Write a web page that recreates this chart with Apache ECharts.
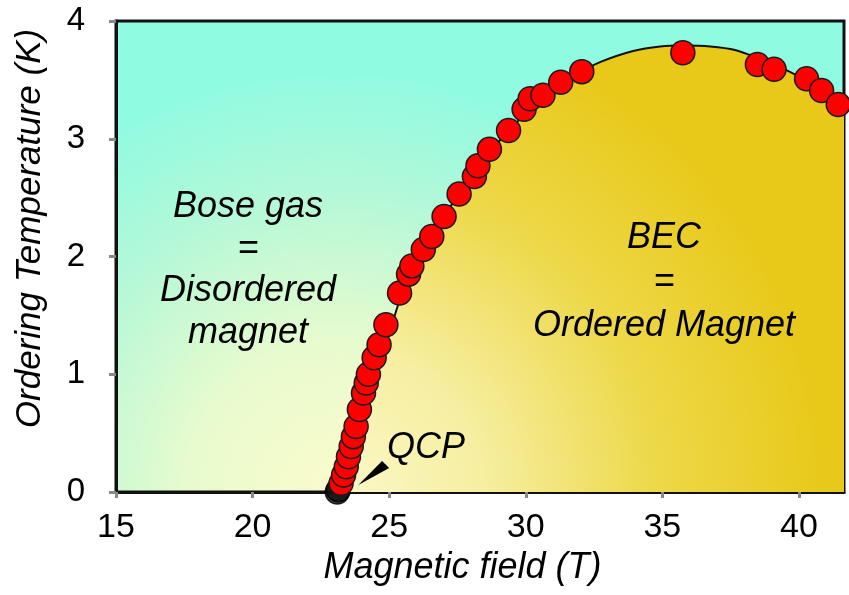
<!DOCTYPE html>
<html>
<head>
<meta charset="utf-8">
<script src="https://cdn.jsdelivr.net/npm/echarts@6/dist/echarts.min.js"></script>
<style>
  html, body { margin: 0; padding: 0; background: #fff; }
  #main { width: 849px; height: 595px; }
</style>
</head>
<body>
<div id="main"></div>
<script>
// tick labels
var xTickLabels = [15, 20, 25, 30, 35, 40];
var yTickLabels = [0, 1, 2, 3, 4];
var xMax = 41.65;

// measured ordering temperatures (field in T, temperature in K)
var fieldData = [23.24, 23.33, 23.43, 23.51, 23.61, 23.69, 23.79, 23.91, 24.06, 24.16,
  24.24, 24.45, 24.63, 24.88, 25.38, 25.71, 25.83, 26.25, 26.56, 27.01,
  27.56, 28.12, 28.25, 28.67, 29.37, 29.94, 30.16, 30.63, 31.28, 32.05,
  35.75, 38.48, 39.09, 40.28, 40.83, 41.44];
var tempData = [0.074, 0.145, 0.215, 0.30, 0.386, 0.47, 0.556, 0.70, 0.84, 0.925,
  1.0, 1.14, 1.25, 1.42, 1.69, 1.85, 1.92, 2.06, 2.17, 2.34,
  2.53, 2.68, 2.77, 2.91, 3.07, 3.25, 3.34, 3.37, 3.48, 3.57,
  3.73, 3.63, 3.59, 3.51, 3.41, 3.29];

// points right at the QCP (drawn dark)
var qcpField = [23.10, 23.14];
var qcpTemp = [0.0, 0.02];

// phase boundary line
var curveField = [23.13, 23.39, 23.75, 24.12, 24.49, 25.04, 25.40, 25.95, 26.50, 27.05,
  27.60, 28.15, 28.70, 29.43, 30.16, 31.08, 31.99, 32.72, 33.93, 34.92,
  35.83, 36.75, 37.66, 38.58, 39.31, 40.04, 40.77, 41.65];
var curveTemp = [0, 0.187, 0.485, 0.783, 1.038, 1.379, 1.634, 1.889, 2.145, 2.357,
  2.545, 2.723, 2.894, 3.081, 3.251, 3.438, 3.566, 3.651, 3.745, 3.783,
  3.791, 3.783, 3.753, 3.677, 3.609, 3.523, 3.421, 3.268];

// QCP pointer wedge: tip, base corner, base corner
var pointerField = [23.87, 24.74, 25.0];
var pointerTemp = [0.06, 0.264, 0.204];

function zip(a, b) {
  return a.map(function (v, i) { return [v, b[i]]; });
}

var FONT = '"Liberation Sans", Arial, Helvetica, sans-serif';

var myChart = echarts.init(document.getElementById('main'));

var option = {
  animation: false,
  grid: {
    left: 116, top: 21, right: 5, bottom: 103,
    show: true,
    borderColor: '#111',
    borderWidth: 3,
    backgroundColor: {
      type: 'radial', x: 0.305, y: 1, r: 0.9,
      colorStops: [
        { offset: 0, color: '#fbfbcc' },
        { offset: 0.35, color: '#e8fbce' },
        { offset: 0.7, color: '#b4f8d8' },
        { offset: 1, color: '#8ffbe1' }
      ]
    }
  },
  xAxis: {
    type: 'value',
    min: xTickLabels[0],
    max: xMax,
    interval: xTickLabels[1] - xTickLabels[0],
    name: 'Magnetic field (T)',
    nameLocation: 'middle',
    nameGap: 58,
    nameTextStyle: { fontFamily: FONT, fontStyle: 'italic', fontSize: 36, color: '#000', padding: [0, 35, 0, 0] },
    axisLine: { onZero: false, lineStyle: { color: '#111', width: 3 } },
    axisTick: { show: true, length: 6, lineStyle: { color: '#888', width: 3 } },
    axisLabel: { fontFamily: FONT, fontSize: 34, color: '#000', margin: 19, showMaxLabel: false },
    splitLine: { show: false }
  },
  yAxis: {
    type: 'value',
    min: yTickLabels[0],
    max: yTickLabels[yTickLabels.length - 1],
    interval: yTickLabels[1] - yTickLabels[0],
    name: 'Ordering Temperature (K)',
    nameLocation: 'middle',
    nameGap: 68,
    nameTextStyle: { fontFamily: FONT, fontStyle: 'italic', fontSize: 35, color: '#000', padding: [0, 0, 0, 56] },
    axisLine: { onZero: false, lineStyle: { color: '#111', width: 3 } },
    axisTick: { show: true, length: 7, lineStyle: { color: '#888', width: 3 } },
    axisLabel: { fontFamily: FONT, fontSize: 33, color: '#000', margin: 31 },
    splitLine: { show: false }
  },
  series: [
    {
      // ordered (BEC) region + boundary
      type: 'line',
      data: zip(curveField, curveTemp),
      smooth: 0.3,
      symbol: 'none',
      z: 1,
      lineStyle: { color: '#111', width: 2 },
      areaStyle: {
        opacity: 1,
        color: {
          type: 'radial', x: 0, y: 1, r: 1.1,
          colorStops: [
            { offset: 0, color: '#fbf8c8' },
            { offset: 0.3, color: '#f6eea0' },
            { offset: 0.65, color: '#edd848' },
            { offset: 1, color: '#e8c818' }
          ]
        }
      }
    },
    {
      type: 'scatter',
      data: zip(qcpField, qcpTemp),
      symbolSize: 24,
      z: 3,
      itemStyle: { color: '#111', borderColor: '#000', borderWidth: 1.5 }
    },
    {
      type: 'scatter',
      data: zip(fieldData, tempData),
      symbolSize: 24,
      z: 4,
      itemStyle: { color: '#ff0000', borderColor: '#1a1a1a', borderWidth: 1.5, opacity: 1 }
    }
  ]
};

myChart.setOption(option);

var wedge = pointerField.map(function (f, i) {
  return myChart.convertToPixel({ gridIndex: 0 }, [f, pointerTemp[i]]);
});

myChart.setOption({
  graphic: [
    {
      type: 'text', x: 248, y: 270, z: 10,
      style: {
        text: 'Bose gas\n=\nDisordered\nmagnet',
        font: 'italic 36px ' + FONT,
        fill: '#000', align: 'center', verticalAlign: 'middle', lineHeight: 42
      }
    },
    {
      type: 'text', x: 664, y: 282, z: 10,
      style: {
        text: 'BEC\n=\nOrdered Magnet',
        font: 'italic 36px ' + FONT,
        fill: '#000', align: 'center', verticalAlign: 'middle', lineHeight: 44
      }
    },
    {
      type: 'text', x: 426, y: 448, z: 10,
      style: {
        text: 'QCP',
        font: 'italic 36px ' + FONT,
        fill: '#000', align: 'center', verticalAlign: 'middle'
      }
    },
    {
      type: 'polygon', z: 10,
      shape: { points: wedge },
      style: { fill: '#000' }
    }
  ]
});
</script>
</body>
</html>
